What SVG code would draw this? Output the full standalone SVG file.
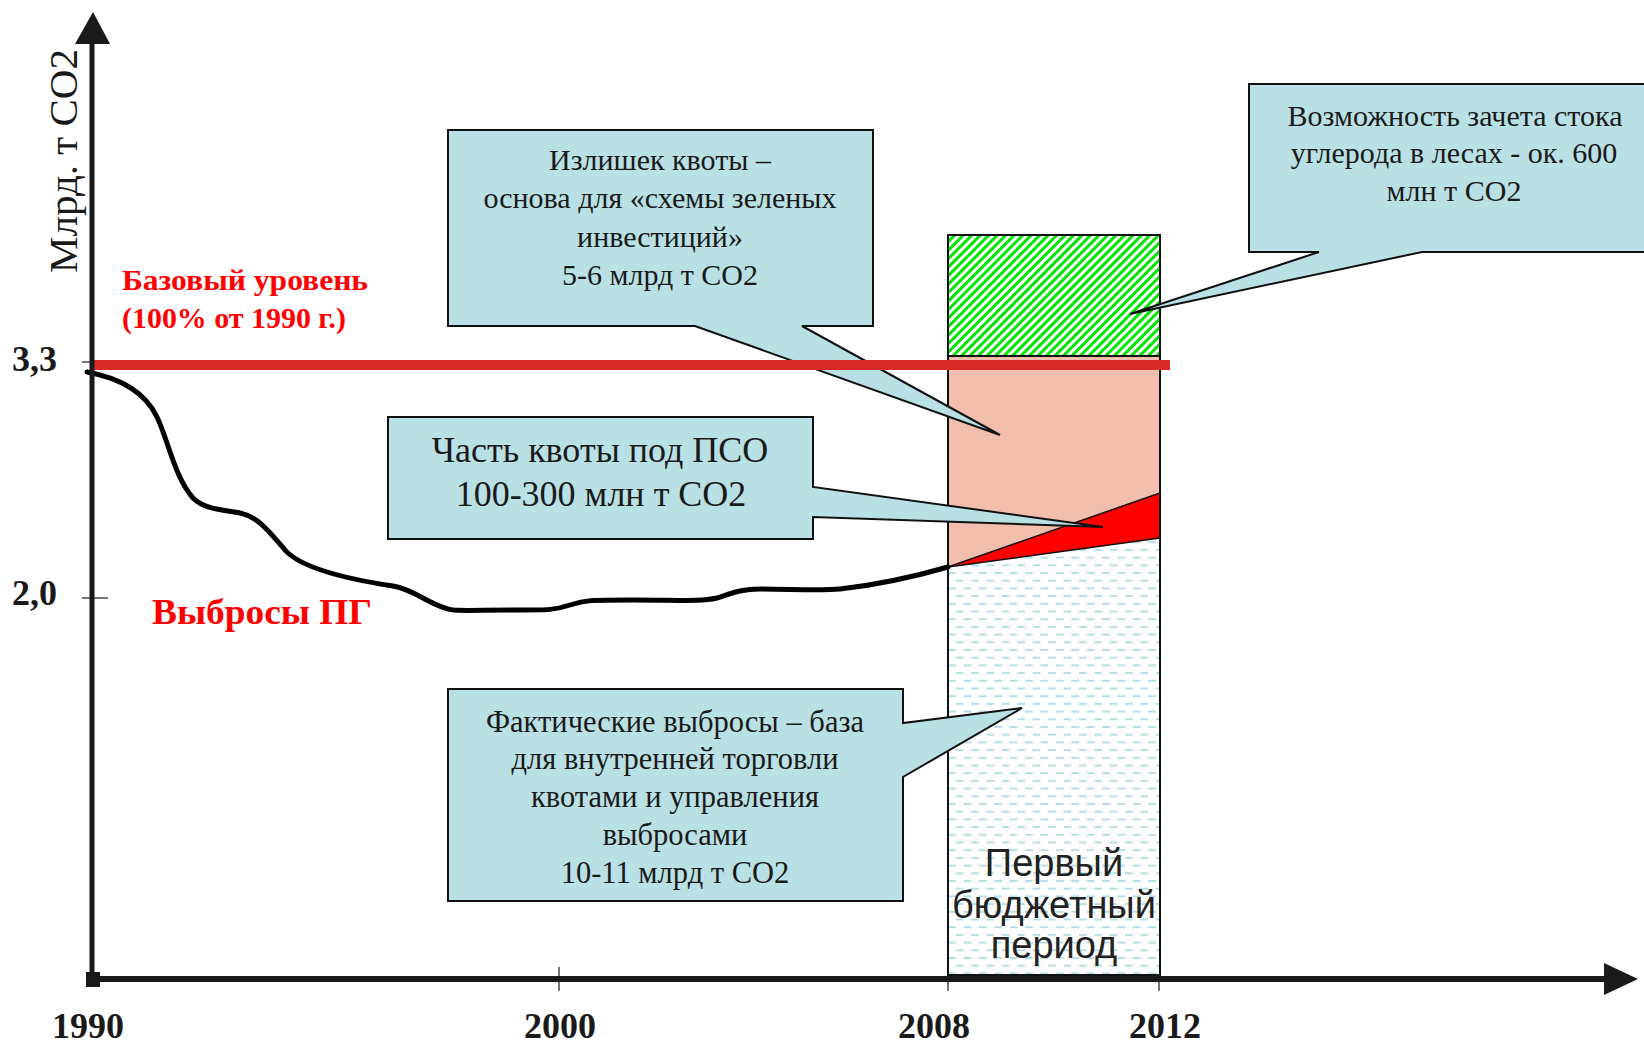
<svg xmlns="http://www.w3.org/2000/svg" width="1644" height="1046" viewBox="0 0 1644 1046">
<style>
.serif{font-family:"Liberation Serif","Times New Roman",serif}
.sans{font-family:"Liberation Sans",Arial,sans-serif;font-size:38px;fill:#222;text-anchor:middle}
.axis-lbl{font-family:"Liberation Serif","Times New Roman",serif;font-weight:bold;font-size:36px;fill:#1a1a1a}
.red-lbl{font-family:"Liberation Serif","Times New Roman",serif;font-weight:bold;fill:#ff0000}
.callout{fill:#b9e0e4;stroke:#111;stroke-width:2;stroke-linejoin:miter}
.ctext{font-family:"Liberation Serif","Times New Roman",serif;font-size:30px;fill:#1a1a1a;text-anchor:middle}
.tick{stroke:#1a1a1a;stroke-width:1.2}
.edge{stroke:#111;stroke-width:1.5;fill:none}
</style>
<defs>
<pattern id="hatch" patternUnits="userSpaceOnUse" width="6" height="6" patternTransform="rotate(45)">
<rect width="6" height="6" fill="#ffffff"/>
<rect width="3" height="6" fill="#00e400"/>
</pattern>
<pattern id="dash" patternUnits="userSpaceOnUse" x="948" y="572" width="15.4" height="15.4">
<rect width="15.4" height="15.4" fill="#ffffff"/>
<rect x="0" y="0" width="8" height="2" fill="#b5dfe5"/>
<rect x="7.7" y="7.7" width="8" height="2" fill="#b5dfe5"/>
</pattern>
</defs>
<rect width="1644" height="1046" fill="#ffffff"/>

<g id="column">
<rect x="948" y="235" width="212" height="121" fill="url(#hatch)"/>
<polygon points="948,356 1160,356 1160,493 948,567" fill="#f2bead"/>
<polygon points="948,567 1160,493 1160,538" fill="#ff0000"/>
<polygon points="948,567 1160,538 1160,975 948,975" fill="url(#dash)"/>
<line class="edge" x1="948" y1="567" x2="1160" y2="493"/>
<line class="edge" x1="948" y1="567" x2="1160" y2="538"/>
<line x1="948" y1="356" x2="1160" y2="356" stroke="#111" stroke-width="2"/>
<rect x="948" y="235" width="212" height="740" fill="none" stroke="#111" stroke-width="2"/>
<text class="sans" x="1054" y="876">Первый</text>
<text class="sans" x="1054" y="918">бюджетный</text>
<text class="sans" x="1054" y="958">период</text>
</g>

<g id="emissions-curve">
<path d="M87,372 C120,378 145,392 157,417 C168,440 175,478 193,498 C205,510 225,510 240,513 C258,517 268,530 285,550 C300,567 340,578 393,586 C415,590 425,602 445,608 C455,612 470,610 520,610 C548,610 555,610 570,605 C585,600 590,600 633,600 C680,600 700,602 717,598 C730,594 740,589 760,589 C790,589 820,591 840,589 C875,585 910,578 948,567" fill="none" stroke="#000" stroke-width="5" stroke-linecap="round"/>
</g>

<g id="callout-surplus">
<path class="callout" d="M448,130 H873 V326 H802 L1000,435 L695,326 H448 Z"/>
<text class="ctext" x="660" y="170">Излишек квоты –</text>
<text class="ctext" x="660" y="208">основа для «схемы зеленых</text>
<text class="ctext" x="660" y="247">инвестиций»</text>
<text class="ctext" x="660" y="285">5-6 млрд т CO2</text>
</g>

<g id="callout-forest">
<path class="callout" d="M1249,84 H1652 V252 H1422 L1130,314 L1319,252 H1249 Z"/>
<text class="ctext" x="1455" y="126">Возможность зачета стока</text>
<text class="ctext" x="1454" y="163">углерода в лесах - ок. 600</text>
<text class="ctext" x="1454" y="201">млн т CO2</text>
</g>

<g id="callout-pso">
<path class="callout" d="M388,417 H813 V487 L1103,527 L813,517 V539 H388 Z"/>
<text class="ctext" x="600" y="462" style="font-size:36px">Часть квоты под ПСО</text>
<text class="ctext" x="601" y="506" style="font-size:36px">100-300 млн т CO2</text>
</g>

<g id="callout-actual">
<path class="callout" d="M448,689 H903 V723 L1022,708 L903,777 V901 H448 Z"/>
<text class="ctext" x="675" y="732" style="font-size:30.5px">Фактические выбросы – база</text>
<text class="ctext" x="675" y="769" style="font-size:30.5px">для внутренней торговли</text>
<text class="ctext" x="675" y="807" style="font-size:30.5px">квотами и управления</text>
<text class="ctext" x="675" y="845" style="font-size:30.5px">выбросами</text>
<text class="ctext" x="675" y="883" style="font-size:30.5px">10-11 млрд т CO2</text>
</g>

<g id="baseline">
<line x1="92" y1="365" x2="1170" y2="365" stroke="#d92a2a" stroke-width="10"/>
<text class="red-lbl" x="122" y="290" font-size="30" textLength="246" lengthAdjust="spacingAndGlyphs">Базовый уровень</text>
<text class="red-lbl" x="122" y="328" font-size="30" textLength="224" lengthAdjust="spacingAndGlyphs">(100% от 1990 г.)</text>
</g>

<g id="axes">
<line x1="92" y1="40" x2="92" y2="979" stroke="#1a1a1a" stroke-width="5"/>
<polygon points="93,12 110,44 75,44" fill="#1a1a1a"/>
<line x1="88" y1="979" x2="1606" y2="979" stroke="#1a1a1a" stroke-width="6"/>
<polygon points="1604,963 1638,979 1604,995" fill="#1a1a1a"/>
<rect x="86" y="972" width="14" height="15" fill="#1a1a1a"/>
<line class="tick" x1="82" y1="362" x2="92" y2="362"/>
<line class="tick" x1="82" y1="598" x2="108" y2="598"/>
<line class="tick" x1="559" y1="967" x2="559" y2="991"/>
<line class="tick" x1="948" y1="975" x2="948" y2="991"/>
<line class="tick" x1="1159" y1="975" x2="1159" y2="991"/>
<text class="axis-lbl" x="12" y="371">3,3</text>
<text class="axis-lbl" x="12" y="605">2,0</text>
<text class="axis-lbl" x="88" y="1038" text-anchor="middle">1990</text>
<text class="axis-lbl" x="560" y="1038" text-anchor="middle">2000</text>
<text class="axis-lbl" x="934" y="1038" text-anchor="middle">2008</text>
<text class="axis-lbl" x="1165" y="1038" text-anchor="middle">2012</text>
<text class="serif" transform="translate(77,161) rotate(-90)" font-size="41" fill="#1a1a1a" text-anchor="middle">Млрд. т CO2</text>
<text class="red-lbl" x="152" y="624" font-size="35" textLength="220" lengthAdjust="spacingAndGlyphs">Выбросы ПГ</text>
</g>
</svg>
